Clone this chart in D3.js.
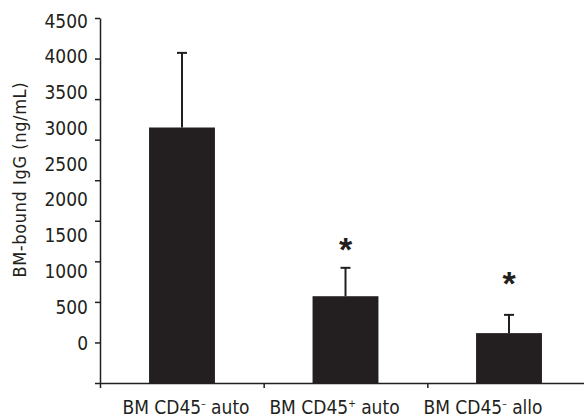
<!DOCTYPE html>
<html>
<head>
<meta charset="utf-8">
<script src="https://cdn.jsdelivr.net/npm/d3@7"></script>
<style>
  body { margin: 0; background: #fff; }
  svg text { font-family: "DejaVu Sans Condensed", "Liberation Sans", Arial, sans-serif; fill: #231f20; }
  .axis path, .axis line { stroke: #231f20; stroke-width: 1.5; }
</style>
</head>
<body>
<svg id="chart"></svg>
<script>
// values
const groups = ['BM CD45- auto', 'BM CD45+ auto', 'BM CD45- allo'];
const labelParts = [['BM CD45', '\u2013', ' auto'], ['BM CD45', '+', ' auto'], ['BM CD45', '\u2013', ' allo']];
const means = [3150, 1070, 615];
const errTop = [4070, 1420, 840];
const starAt = [null, 1760, 1340];
const yTicks = [0, 500, 1000, 1500, 2000, 2500, 3000, 3500, 4000, 4500];

const width = 584, height = 419;
const ink = '#231f20';

const svg = d3.select('#chart')
    .attr('width', width)
    .attr('height', height);

// real value scale (ticks), and the slightly squeezed scale the printed labels sit on
const y = d3.scaleLinear().domain([0, 4500]).range([383, 18]);
const yLab = d3.scaleLinear().domain([0, 4500]).range([343, 21]);

const x = d3.scaleBand().domain(groups).range([100, 591])
    .paddingInner(0.597).paddingOuter(0.3);
const xEdge = d3.scaleLinear().domain([0, 3]).range([100, 591]);
const xLab = d3.scalePoint().domain(groups).range([186, 483]);

// bars
svg.selectAll('.bar')
  .data(groups)
  .enter().append('rect')
    .attr('class', 'bar')
    .attr('x', d => x(d))
    .attr('width', x.bandwidth())
    .attr('y', (d, i) => y(means[i]))
    .attr('height', (d, i) => y(0) - y(means[i]))
    .attr('fill', ink);

// error bars (upper only)
let err = svg.selectAll('.err')
  .data(groups)
  .enter().append('g')
    .attr('class', 'err')
    .attr('stroke', ink)
    .attr('stroke-width', 2);

err.append('line')
    .attr('x1', d => x(d) + x.bandwidth() / 2)
    .attr('x2', d => x(d) + x.bandwidth() / 2)
    .attr('y1', (d, i) => y(means[i]))
    .attr('y2', (d, i) => y(errTop[i]));

err.append('line')
    .attr('x1', d => x(d) + x.bandwidth() / 2 - 5)
    .attr('x2', d => x(d) + x.bandwidth() / 2 + 5)
    .attr('y1', (d, i) => y(errTop[i]))
    .attr('y2', (d, i) => y(errTop[i]));

// significance stars
svg.selectAll('.star')
  .data(groups.filter((d, i) => starAt[i] != null))
  .enter().append('text')
    .attr('class', 'star')
    .attr('x', d => x(d) + x.bandwidth() / 2)
    .attr('y', d => y(starAt[groups.indexOf(d)]))
    .attr('dy', '0.6em')
    .attr('text-anchor', 'middle')
    .style('font-family', '"Liberation Sans", Arial, sans-serif')
    .style('font-size', '34px')
    .style('font-weight', 'bold')
    .text('*');

// y axis: ticks
svg.append('g')
    .attr('class', 'axis')
    .attr('transform', 'translate(100,0)')
    .call(d3.axisLeft(y).tickValues(yTicks).tickSize(5).tickSizeOuter(0).tickFormat(''));

// y axis: printed labels
let yl = svg.append('g')
    .attr('transform', 'translate(100,0)')
    .call(d3.axisLeft(yLab).tickValues(yTicks).tickSize(0).tickPadding(12).tickFormat(d3.format('d')));
yl.select('.domain').remove();
yl.attr('font-family', null);
yl.selectAll('text')
    .style('font-size', '19px')
    .attr('fill', ink);

// x axis
svg.append('g')
    .attr('class', 'axis')
    .attr('transform', 'translate(0,383)')
    .call(d3.axisBottom(xEdge).tickValues([0, 1, 2]).tickSize(5).tickSizeOuter(0).tickFormat(''));

// x labels
let xl = svg.selectAll('.xlab')
  .data(groups)
  .enter().append('text')
    .attr('class', 'xlab')
    .attr('x', d => xLab(d))
    .attr('y', 414)
    .attr('text-anchor', 'middle')
    .style('font-size', '19px');

xl.each(function(d, i) {
  let t = d3.select(this);
  let p = labelParts[i];
  t.append('tspan').text(p[0]);
  t.append('tspan').text(p[1]).attr('dy', -7).style('font-size', '10px');
  t.append('tspan').text(p[2]).attr('dy', 7);
});

// y title
svg.append('text')
    .attr('transform', 'translate(26,180) rotate(-90)')
    .attr('text-anchor', 'middle')
    .attr('textLength', 195)
    .style('font-size', '18px')
    .text('BM-bound IgG (ng/mL)');
</script>
</body>
</html>
